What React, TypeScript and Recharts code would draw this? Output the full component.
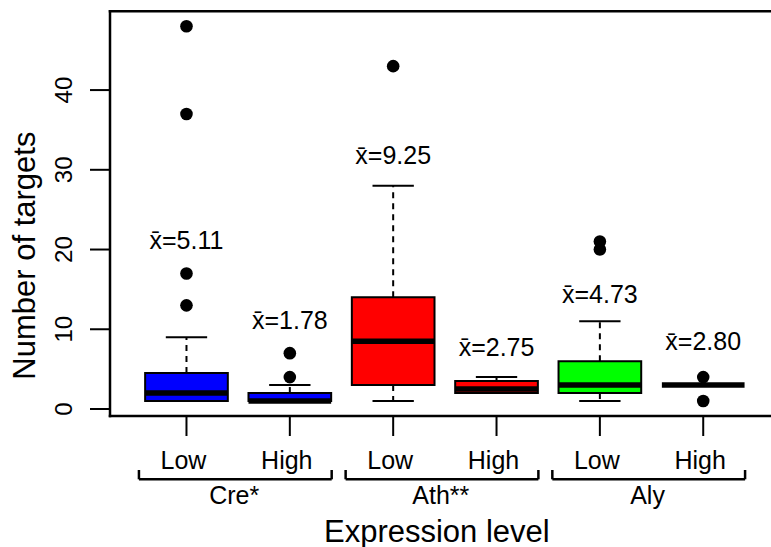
import React from 'react';
import {
  ComposedChart,
  XAxis,
  YAxis,
  Scatter,
  ReferenceArea,
  ReferenceLine,
  ReferenceDot,
} from 'recharts';

// ---- data ----
const levels = ['Low', 'High', 'Low', 'High', 'Low', 'High'];
const positions = [1, 2, 3, 4, 5, 6];
const species = ['Cre*', 'Ath**', 'Aly'];
const speciesCenters = [1.5, 3.5, 5.5];
const whiskerLow = [1, 1, 1, 2, 1, 3];
const q1 = [1, 1, 3, 2, 2, 3];
const medians = [2, 1, 8.5, 2.5, 3, 3];
const q3 = [4.5, 2, 14, 3.5, 6, 3];
const whiskerHigh = [9, 3, 28, 4, 11, 3];
const outliers = [[13, 17, 37, 48], [4, 7], [43], [], [20, 21], [4, 1]];
const meanLabels = ['5.11', '1.78', '9.25', '2.75', '4.73', '2.80'];
const meanLabelY = [21.2, 11.2, 31.8, 7.8, 14.4, 8.45];
const boxColors = ['#0000FF', '#0000FF', '#FF0000', '#FF0000', '#00FF00', '#00FF00'];
const yTicks = [0, 10, 20, 30, 40];

// ---- layout constants ----
const xDomain: [number, number] = [0.26, 6.74];
const yDomain: [number, number] = [-0.88, 49.88];
const BOX_HALF = 0.4;
const STAPLE_HALF = 0.2;
const BRACKET_Y = -8.82;
const BRACKET_TOP = -7.65;
const SPECIES_Y = -10.82;
const BRACKET_LEFT = 0.96;
const BRACKET_RIGHT = 0.905;
const FONT = "'Liberation Sans', Arial, Helvetica, sans-serif";

const outlierData = outliers.flatMap((vals, i) =>
  vals.map((v) => ({ x: positions[i], y: v }))
);

const XTick = (props: any) => {
  const { x, y, payload } = props;
  const idx = positions.indexOf(payload.value);
  return (
    <text x={x - 3} y={y + 31} textAnchor="middle" fontSize={25} fill="#000" fontFamily={FONT}>
      {levels[idx]}
    </text>
  );
};

const YTick = (props: any) => {
  const { x, y, payload } = props;
  const tx = x - 16;
  return (
    <text
      x={tx}
      y={y}
      transform={`rotate(-90 ${tx} ${y})`}
      textAnchor="middle"
      fontSize={24}
      fill="#000"
      fontFamily={FONT}
    >
      {payload.value}
    </text>
  );
};

const YTitle = (props: any) => {
  const vb = props.viewBox || { x: 0, y: 0, width: 110, height: 405 };
  const tx = vb.x + 35;
  const ty = vb.y + vb.height / 2 + 42;
  return (
    <text
      x={tx}
      y={ty}
      transform={`rotate(-90 ${tx} ${ty})`}
      textAnchor="middle"
      fontSize={31}
      fill="#000"
      fontFamily={FONT}
    >
      Number of targets
    </text>
  );
};

const XTitle = (props: any) => {
  const vb = props.viewBox || { x: 110, y: 416, width: 670, height: 131 };
  return (
    <text
      x={vb.x + vb.width / 2 - 8}
      y={vb.y + vb.height - 5.5}
      textAnchor="middle"
      fontSize={31}
      fill="#000"
      fontFamily={FONT}
    >
      Expression level
    </text>
  );
};

const Dot = (props: any) => <circle cx={props.cx} cy={props.cy} r={6.3} fill="#000" />;

export default function App() {
  return (
    <div
      style={{
        position: 'absolute',
        left: 0,
        top: 0,
        width: 771,
        height: 547,
        overflow: 'hidden',
        background: '#fff',
      }}
    >
      <ComposedChart
        width={771}
        height={547}
        margin={{ top: 11.3, right: -8.7, bottom: 0, left: 0 }}
        style={{ fontFamily: FONT, overflow: 'hidden' }}
      >
        <XAxis
          type="number"
          dataKey="x"
          domain={xDomain}
          ticks={positions}
          allowDataOverflow
          height={131}
          tickSize={20}
          tickLine={{ stroke: '#000', strokeWidth: 2 }}
          axisLine={false}
          tick={<XTick />}
          interval={0}
          label={<XTitle />}
        />
        <YAxis
          type="number"
          dataKey="y"
          domain={yDomain}
          ticks={yTicks}
          allowDataOverflow
          width={110}
          tickSize={20}
          tickLine={{ stroke: '#000', strokeWidth: 2 }}
          axisLine={false}
          tick={<YTick />}
          interval={0}
          label={<YTitle />}
        />

        {/* boxes */}
        {positions.map((p, i) => (
          <ReferenceArea
            key={`box-${i}`}
            x1={p - BOX_HALF}
            x2={p + BOX_HALF}
            y1={q1[i]}
            y2={q3[i]}
            fill={boxColors[i]}
            fillOpacity={1}
            stroke="#000"
            strokeWidth={2}
            ifOverflow="visible"
          />
        ))}

        {/* upper whiskers */}
        {positions.map((p, i) => (
          <ReferenceLine
            key={`wu-${i}`}
            segment={[{ x: p, y: q3[i] }, { x: p, y: whiskerHigh[i] }]}
            stroke="#000"
            strokeWidth={2}
            strokeDasharray="6 5"
            ifOverflow="visible"
          />
        ))}
        {/* lower whiskers */}
        {positions.map((p, i) => (
          <ReferenceLine
            key={`wl-${i}`}
            segment={[{ x: p, y: q1[i] }, { x: p, y: whiskerLow[i] }]}
            stroke="#000"
            strokeWidth={2}
            strokeDasharray="6 5"
            ifOverflow="visible"
          />
        ))}
        {/* staples */}
        {positions.map((p, i) => (
          <ReferenceLine
            key={`su-${i}`}
            segment={[{ x: p - STAPLE_HALF, y: whiskerHigh[i] }, { x: p + STAPLE_HALF, y: whiskerHigh[i] }]}
            stroke="#000"
            strokeWidth={2}
            ifOverflow="visible"
          />
        ))}
        {positions.map((p, i) => (
          <ReferenceLine
            key={`sl-${i}`}
            segment={[{ x: p - STAPLE_HALF, y: whiskerLow[i] }, { x: p + STAPLE_HALF, y: whiskerLow[i] }]}
            stroke="#000"
            strokeWidth={2}
            ifOverflow="visible"
          />
        ))}
        {/* medians */}
        {positions.map((p, i) => (
          <ReferenceLine
            key={`med-${i}`}
            segment={[{ x: p - BOX_HALF, y: medians[i] }, { x: p + BOX_HALF, y: medians[i] }]}
            stroke="#000"
            strokeWidth={5.5}
            ifOverflow="visible"
          />
        ))}

        {/* frame: top, left, bottom (right side lies beyond the picture) */}
        <ReferenceLine
          segment={[{ x: xDomain[0], y: yDomain[1] }, { x: xDomain[1], y: yDomain[1] }]}
          stroke="#000"
          strokeWidth={2.5}
          strokeLinecap="square"
          ifOverflow="visible"
        />
        <ReferenceLine
          segment={[{ x: xDomain[0], y: yDomain[0] }, { x: xDomain[1], y: yDomain[0] }]}
          stroke="#000"
          strokeWidth={2.5}
          strokeLinecap="square"
          ifOverflow="visible"
        />
        <ReferenceLine
          segment={[{ x: xDomain[0], y: yDomain[0] }, { x: xDomain[0], y: yDomain[1] }]}
          stroke="#000"
          strokeWidth={2.5}
          strokeLinecap="square"
          ifOverflow="visible"
        />

        {/* species brackets */}
        {speciesCenters.map((g, i) => (
          <ReferenceLine
            key={`br-${i}`}
            segment={[{ x: g - BRACKET_LEFT, y: BRACKET_Y }, { x: g + BRACKET_RIGHT, y: BRACKET_Y }]}
            stroke="#000"
            strokeWidth={2.5}
            ifOverflow="visible"
          />
        ))}
        {speciesCenters.map((g, i) => (
          <ReferenceLine
            key={`brl-${i}`}
            segment={[{ x: g - BRACKET_LEFT, y: BRACKET_Y }, { x: g - BRACKET_LEFT, y: BRACKET_TOP }]}
            stroke="#000"
            strokeWidth={2.5}
            ifOverflow="visible"
          />
        ))}
        {speciesCenters.map((g, i) => (
          <ReferenceLine
            key={`brr-${i}`}
            segment={[{ x: g + BRACKET_RIGHT, y: BRACKET_Y }, { x: g + BRACKET_RIGHT, y: BRACKET_TOP }]}
            stroke="#000"
            strokeWidth={2.5}
            ifOverflow="visible"
          />
        ))}
        {speciesCenters.map((g, i) => (
          <ReferenceDot
            key={`sp-${i}`}
            x={g}
            y={SPECIES_Y}
            r={0}
            fill="none"
            stroke="none"
            ifOverflow="visible"
            label={{
              value: species[i],
              position: 'center',
              fontSize: 25,
              fill: '#000',
              fontFamily: FONT,
              dx: -4,
            }}
          />
        ))}

        {/* mean labels */}
        {positions.map((p, i) => (
          <ReferenceDot
            key={`mean-${i}`}
            x={p}
            y={meanLabelY[i]}
            r={0}
            fill="none"
            stroke="none"
            ifOverflow="visible"
            label={{
              value: `x\u0304=${meanLabels[i]}`,
              position: 'center',
              fontSize: 25,
              fill: '#000',
              fontFamily: FONT,
            }}
          />
        ))}

        <Scatter data={outlierData} dataKey="y" shape={<Dot />} isAnimationActive={false} />
      </ComposedChart>
    </div>
  );
}
